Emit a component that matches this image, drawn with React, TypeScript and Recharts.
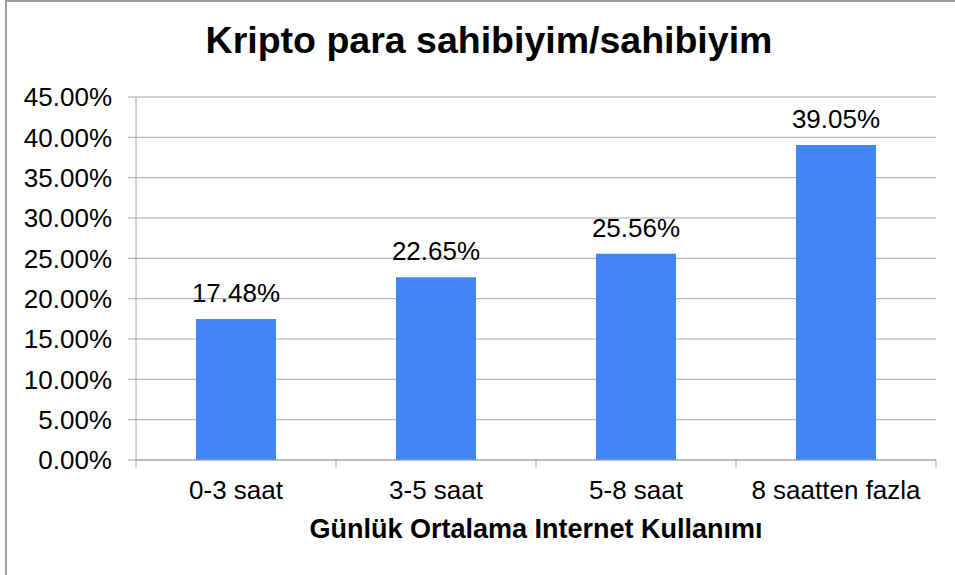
import React from 'react';
import { BarChart, Bar, XAxis, YAxis, CartesianGrid, LabelList } from 'recharts';

const categories = ['0-3 saat', '3-5 saat', '5-8 saat', '8 saatten fazla'];
const values = [17.48, 22.65, 25.56, 39.05];
const yTicks = [0, 5, 10, 15, 20, 25, 30, 35, 40, 45];

const data = categories.map((name, i) => ({ name, value: values[i] }));

const FONT = '"Liberation Sans", Arial, sans-serif';
const GRID = '#a6a6a6';
const BAR = '#4285f4';

// ticks sit on the category boundaries, the label in the middle
const XTick = (props: any) => {
  const { x, y, payload, index } = props;
  const half = 100;
  const axisY = y - 21;
  return (
    <g>
      <line x1={x - half} y1={axisY} x2={x - half} y2={axisY + 8} stroke={GRID} />
      {index === categories.length - 1 && (
        <line x1={x + half} y1={axisY} x2={x + half} y2={axisY + 8} stroke={GRID} />
      )}
      <text x={x} y={y} dy="0.71em" textAnchor="middle" fontSize={26} fill="#000" fontFamily={FONT}>
        {payload.value}
      </text>
    </g>
  );
};

const App: React.FC = () => {
  return (
    <div style={{ position: 'absolute', left: 0, top: 0, width: 955, height: 575, overflow: 'hidden', background: '#fff', fontFamily: FONT }}>
      <div style={{ position: 'absolute', left: 5, top: 0, width: 1100, height: 800, border: '2px solid #a0a0a0', boxSizing: 'border-box' }} />
      <div style={{ position: 'absolute', left: 0, top: 19, width: 978, textAlign: 'center', fontSize: 37.5, fontWeight: 'bold', color: '#000' }}>
        Kripto para sahibiyim/sahibiyim
      </div>
      <div style={{ position: 'absolute', left: 136, top: 514, width: 800, textAlign: 'center', fontSize: 27, fontWeight: 'bold', color: '#000' }}>
        Günlük Ortalama Internet Kullanımı
      </div>
      <div style={{ position: 'absolute', left: 0, top: 0 }}>
        <BarChart width={955} height={575} data={data} margin={{ top: 97, right: 19, bottom: 45, left: 0 }} barCategoryGap="30%">
          <CartesianGrid vertical={false} stroke={GRID} />
          <XAxis
            dataKey="name"
            height={70}
            tickLine={false}
            tickSize={8}
            tickMargin={13}
            stroke={GRID}
            tick={<XTick />}
            interval={0}
          />
          <YAxis
            width={136}
            domain={[0, 45]}
            ticks={yTicks}
            interval={0}
            stroke={GRID}
            tickSize={8}
            tickMargin={16}
            tick={{ fill: '#000', fontSize: 26, fontFamily: FONT }}
            tickFormatter={(v: number) => `${v.toFixed(2)}%`}
          />
          <Bar dataKey="value" fill={BAR} isAnimationActive={false}>
            <LabelList
              dataKey="value"
              position="top"
              offset={17}
              fill="#000"
              fontSize={26}
              fontFamily={FONT}
              formatter={(v: any) => `${Number(v).toFixed(2)}%`}
            />
          </Bar>
        </BarChart>
      </div>
    </div>
  );
};

export default App;
